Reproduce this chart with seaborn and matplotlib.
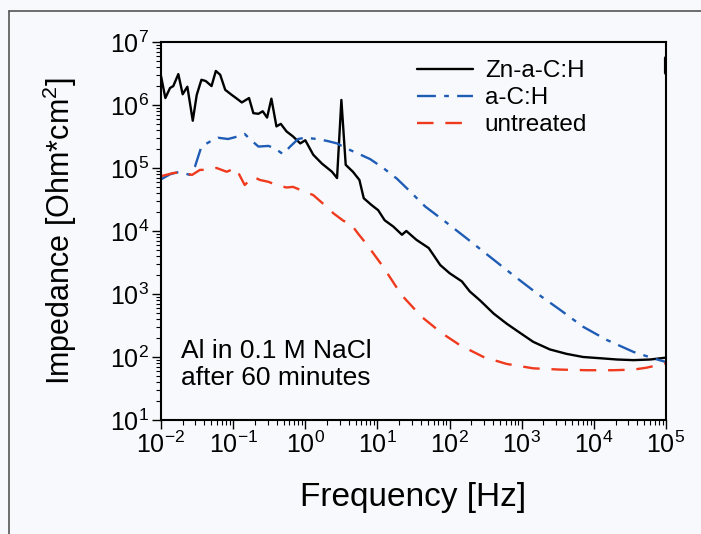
import numpy as np
import matplotlib
matplotlib.use("Agg")
import matplotlib.pyplot as plt
import pandas as pd
import seaborn as sns
from matplotlib.lines import Line2D
from matplotlib.ticker import LogLocator

# log10 frequency / log10 impedance
zn_logf = [-2.0, -1.94, -1.875, -1.83, -1.76, -1.70, -1.635, -1.56, -1.505, -1.44, -1.38, -1.30,
           -1.24, -1.18, -1.11, -1.02, -0.96, -0.88, -0.78, -0.72, -0.65, -0.59, -0.53, -0.47,
           -0.40, -0.34, -0.26, -0.17, -0.07, 0.0, 0.11, 0.23, 0.37, 0.44, 0.50, 0.56, 0.66,
           0.75, 0.81, 0.92, 1.01, 1.10, 1.22, 1.34, 1.40, 1.54, 1.71, 1.77, 1.87, 2.0, 2.17,
           2.28, 2.42, 2.61, 2.79, 2.98, 3.16, 3.39, 3.62, 3.85, 4.09, 4.32, 4.55, 4.78, 5.0]
zn_logz = [6.46, 6.11, 6.27, 6.30, 6.49, 6.17, 6.29, 5.75, 6.16, 6.40, 6.38, 6.30,
           6.54, 6.48, 6.24, 6.16, 6.11, 6.04, 6.11, 5.87, 5.86, 5.90, 5.80, 6.10,
           5.66, 5.70, 5.58, 5.50, 5.39, 5.44, 5.21, 5.07, 4.94, 4.84, 6.08, 5.05, 4.94,
           4.81, 4.52, 4.41, 4.33, 4.17, 4.07, 3.94, 4.00, 3.86, 3.73, 3.63, 3.46, 3.33, 3.20,
           3.04, 2.90, 2.69, 2.53, 2.38, 2.24, 2.12, 2.05, 2.00, 1.98, 1.96, 1.95, 1.96, 1.99]

ac_logf = [-2.0, -1.875, -1.78, -1.69, -1.60, -1.53, -1.44, -1.32, -1.21, -1.07, -0.97, -0.84,
           -0.77, -0.65, -0.51, -0.42, -0.31, -0.21, -0.10, 0.0, 0.16, 0.30, 0.44, 0.57, 0.71,
           0.90, 1.08, 1.27, 1.45, 1.66, 1.96, 2.24, 2.56, 2.88, 3.21, 3.53, 3.85, 4.18, 4.55,
           4.82, 5.0]
ac_logz = [4.82, 4.90, 4.93, 4.92, 4.89, 5.02, 5.34, 5.42, 5.48, 5.46, 5.49, 5.54,
           5.46, 5.34, 5.35, 5.31, 5.22, 5.34, 5.46, 5.48, 5.46, 5.43, 5.39, 5.31, 5.24,
           5.14, 5.00, 4.83, 4.63, 4.39, 4.13, 3.88, 3.59, 3.30, 3.01, 2.75, 2.48, 2.27, 2.08,
           1.98, 1.92]

un_logf = [-2.0, -1.83, -1.71, -1.57, -1.46, -1.34, -1.23, -1.09, -0.96, -0.90, -0.84, -0.72,
           -0.63, -0.51, -0.40, -0.26, -0.17, 0.0, 0.11, 0.25, 0.39, 0.53, 0.62, 0.73, 0.85,
           1.08, 1.33, 1.61, 1.89, 2.14, 2.47, 2.79, 3.16, 3.53, 3.90, 4.27, 4.55, 4.73, 5.0]
un_logz = [4.87, 4.92, 4.93, 4.89, 4.97, 4.97, 5.00, 4.94, 5.00, 4.86, 4.73, 4.86,
           4.81, 4.78, 4.73, 4.69, 4.70, 4.62, 4.57, 4.43, 4.28, 4.16, 4.13, 3.96, 3.79,
           3.43, 2.99, 2.64, 2.38, 2.19, 2.00, 1.89, 1.82, 1.80, 1.79, 1.79, 1.80, 1.83, 1.90]

labels = ["Zn-a-C:H", "a-C:H", "untreated"]

sns.set_style("ticks")
plt.rcParams['font.family'] = ['Liberation Sans', 'DejaVu Sans']
plt.rcParams['mathtext.default'] = 'regular'
plt.rcParams['text.color'] = 'black'
plt.rcParams['axes.labelcolor'] = 'black'
plt.rcParams['xtick.color'] = 'black'
plt.rcParams['ytick.color'] = 'black'

bg = "#f8f9fc"
fig = plt.figure(figsize=(7.01, 5.34), dpi=100, facecolor=bg)
ax = fig.add_axes([0.2297, 0.2135, 0.7204, 0.7079], facecolor=bg)

df_zn = pd.DataFrame({"f": 10 ** np.array(zn_logf), "z": 10 ** np.array(zn_logz)})
df_ac = pd.DataFrame({"f": 10 ** np.array(ac_logf), "z": 10 ** np.array(ac_logz)})
df_un = pd.DataFrame({"f": 10 ** np.array(un_logf), "z": 10 ** np.array(un_logz)})

sns.lineplot(data=df_zn, x="f", y="z", ax=ax, color="black", lw=1.7, label=labels[0], sort=False)
sns.lineplot(data=df_ac, x="f", y="z", ax=ax, color="#1f5cb5", lw=1.7, label=labels[1], sort=False)
sns.lineplot(data=df_un, x="f", y="z", ax=ax, color="#f03a1e", lw=1.7, label=labels[2], sort=False)
lines = ax.get_lines()
lines[1].set_dashes([8, 3.5, 2, 3.5])
lines[2].set_dashes([7, 5])

ax.set_xscale("log")
ax.set_yscale("log")
ax.set_xlim(1e-2, 1e5)
ax.set_ylim(1e1, 1e7)
ax.xaxis.set_major_locator(LogLocator(base=10, numticks=20))
ax.yaxis.set_major_locator(LogLocator(base=10, numticks=20))
ax.xaxis.set_minor_locator(LogLocator(base=10, subs=np.arange(2, 10), numticks=50))
ax.yaxis.set_minor_locator(LogLocator(base=10, subs=np.arange(2, 10), numticks=50))

ax.tick_params(which="major", direction="out", length=6.5, width=1, labelsize=18, pad=2)
ax.tick_params(which="minor", direction="out", length=3.5, width=0.8)
for s in ax.spines.values():
    s.set_linewidth(1.5)
    s.set_color("black")

ax.set_xlabel("Frequency [Hz]", fontsize=24, labelpad=17)
ax.set_ylabel("Impedance [Ohm*cm$^2$]", fontsize=22, labelpad=22)

ax.text(0.04, 0.213, "Al in 0.1 M NaCl\nafter 60 minutes", transform=ax.transAxes,
        fontsize=19, va="top", ha="left", linespacing=1.15)

ax.legend(loc="upper left", bbox_to_anchor=(0.463, 1.009), frameon=False, fontsize=17.5,
          handlelength=2.3, handletextpad=0.5, labelspacing=0.2)

# small dark mark on the right spine
ax.axvline(1e5, ymin=0.918, ymax=0.958, color="black", lw=3)

# outer frame of the figure
fig.add_artist(Line2D([9 / 701, 9 / 701], [0, 1 - 11 / 534], transform=fig.transFigure,
                      color="#555555", lw=1.2))
fig.add_artist(Line2D([9 / 701, 1], [1 - 11 / 534, 1 - 11 / 534], transform=fig.transFigure,
                      color="#555555", lw=1.2))

fig.savefig("out.png", dpi=100, facecolor=bg)
